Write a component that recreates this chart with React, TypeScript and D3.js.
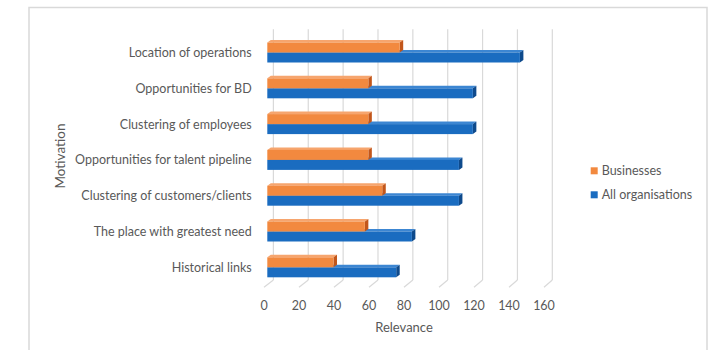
import React from "react";
import * as d3 from "d3";

const categories = [
  "Location of operations",
  "Opportunities for BD",
  "Clustering of employees",
  "Opportunities for talent pipeline",
  "Clustering of customers/clients",
  "The place with greatest need",
  "Historical links",
];
const seriesNames = ["Businesses", "All organisations"];
const businesses = [76, 58, 58, 58, 66, 56, 38];
const allOrganisations = [145, 118, 118, 110, 110, 83, 74];
const ticks = [0, 20, 40, 60, 80, 100, 120, 140, 160];

const W = 713;
const H = 350;
const FONT = "Lato, 'Open Sans', sans-serif";
const TEXT = "#595959";
const GRID = "#D9D9D9";

const colors = {
  orange: { front: "#F2893F", top: "#F6A56E", side: "#C2561A" },
  blue: { front: "#1A6CC0", top: "#3C86D2", side: "#0E4A8C" },
};

const DX = 3.5;
const DY = -2.5;

function Bar({ x0, x1, y0, y1, c }: { x0: number; x1: number; y0: number; y1: number; c: { front: string; top: string; side: string } }) {
  const top = `M${x0},${y0} L${x0 + DX},${y0 + DY} L${x1 + DX},${y0 + DY} L${x1},${y0} Z`;
  const side = `M${x1},${y0} L${x1 + DX},${y0 + DY} L${x1 + DX},${y1 + DY} L${x1},${y1} Z`;
  return (
    <g>
      <path d={top} fill={c.top} />
      <path d={side} fill={c.side} />
      <rect x={x0} y={y0} width={x1 - x0} height={y1 - y0} fill={c.front} />
    </g>
  );
}

export default function App() {
  const xBar = d3.scaleLinear().domain([0, 160]).range([267.3, 267.3 + 160 * 1.742]);
  const xFront = d3.scaleLinear().domain([0, 160]).range([264, 544]);
  const xBack = d3.scaleLinear().domain([0, 160]).range([273.4, 552.3]);
  const y = d3.scaleBand<string>().domain(categories).range([34.6, 285.2]).padding(0);

  const wallTop = 29.3;
  const wallBottom = 280;
  const floorFront = 287.3;
  const half = 10;

  return (
    <svg
      width={W}
      height={H}
      style={{ position: "fixed", left: 0, top: 0, background: "#fff" }}
      fontFamily={FONT}
    >
      <rect x={0} y={0} width={W} height={H} fill="#fff" />
      <rect x={29} y={7.5} width={678} height={360} fill="none" stroke={GRID} strokeWidth={1.5} />

      {ticks.map((t) => (
        <g key={t}>
          <line x1={xBack(t)} x2={xBack(t)} y1={wallTop} y2={wallBottom} stroke={GRID} strokeWidth={1.2} />
          <line x1={xBack(t)} x2={xFront(t)} y1={wallBottom} y2={floorFront} stroke={GRID} strokeWidth={1.2} />
          <text x={xFront(t)} y={310} textAnchor="middle" fontSize={12.5} fill={TEXT}>
            {t}
          </text>
        </g>
      ))}

      {categories.map((cat, i) => {
        const c = (y(cat) as number) + y.bandwidth() / 2;
        return (
          <g key={cat}>
            <Bar x0={xBar(0)} x1={xBar(allOrganisations[i])} y0={c} y1={c + half} c={colors.blue} />
            <Bar x0={xBar(0)} x1={xBar(businesses[i])} y0={c - half} y1={c} c={colors.orange} />
            <text x={251.7} y={c + 4.5} textAnchor="end" fontSize={12.5} fill={TEXT}>
              {cat}
            </text>
          </g>
        );
      })}

      <text x={404} y={332} textAnchor="middle" fontSize={13} fill={TEXT}>
        Relevance
      </text>
      <text
        transform={`translate(64.5,156) rotate(-90)`}
        textAnchor="middle"
        fontSize={13.5}
        fill={TEXT}
      >
        Motivation
      </text>

      <rect x={590.7} y={167.3} width={7} height={7} fill={colors.orange.front} />
      <text x={601.7} y={174.5} fontSize={12.5} fill={TEXT}>
        {seriesNames[0]}
      </text>
      <rect x={590.7} y={191.3} width={7} height={7} fill={colors.blue.front} />
      <text x={601.7} y={198.5} fontSize={12.5} fill={TEXT}>
        {seriesNames[1]}
      </text>
    </svg>
  );
}
